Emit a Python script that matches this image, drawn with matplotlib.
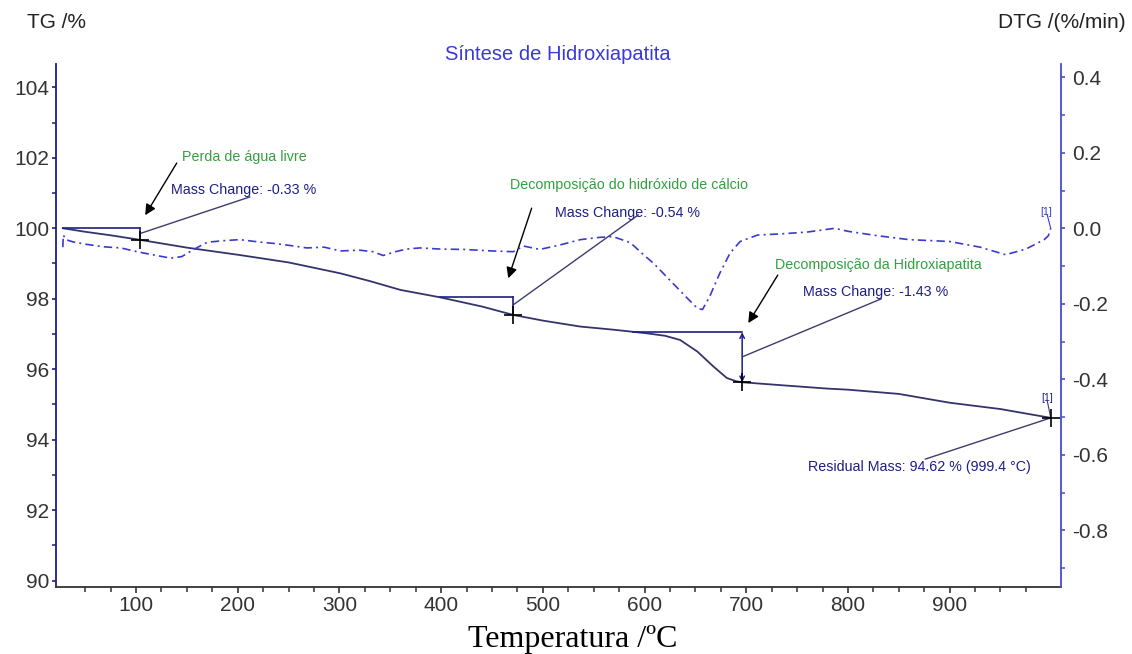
import numpy as np
import matplotlib
matplotlib.use('Agg')
import matplotlib.pyplot as plt
from matplotlib.ticker import MultipleLocator, FixedLocator

plt.rcParams['font.family'] = ['Liberation Sans', 'DejaVu Sans']

# TG curve (%)
T_tg = [28, 50, 75, 104, 150, 202, 250, 301, 330, 360, 399, 440, 471, 500, 537, 570,
        602, 620, 635, 652, 668, 681, 690, 696, 733, 780, 800, 850, 900, 950, 999.4]
tg = [100.0, 99.9, 99.8, 99.67, 99.45, 99.24, 99.03, 98.72, 98.5, 98.25, 98.04, 97.78,
      97.54, 97.38, 97.21, 97.12, 97.02, 96.95, 96.83, 96.5, 96.07, 95.75, 95.66, 95.63,
      95.55, 95.45, 95.42, 95.3, 95.05, 94.87, 94.62]

# DTG curve (%/min)
T_dtg = [28, 28.5, 31, 38, 50, 68, 85, 101, 120, 134, 145, 156, 170, 185, 202, 220, 235,
         250, 268, 285, 301, 320, 333, 343, 355, 366, 379, 399, 422, 450, 471, 481, 497,
         517, 537, 556, 569, 586, 599, 609, 628, 642, 652, 657, 664, 674, 684, 694, 711,
         733, 760, 787, 800, 830, 860, 900, 930, 955, 975, 993, 997, 999.4]
dtg = [-0.05, -0.018, -0.03, -0.036, -0.042, -0.049, -0.052, -0.062, -0.072, -0.079,
       -0.075, -0.057, -0.037, -0.033, -0.030, -0.036, -0.040, -0.045, -0.052, -0.050,
       -0.060, -0.058, -0.062, -0.072, -0.062, -0.055, -0.052, -0.055, -0.056, -0.060,
       -0.062, -0.047, -0.056, -0.044, -0.030, -0.024, -0.022, -0.038, -0.070, -0.093,
       -0.146, -0.185, -0.212, -0.215, -0.181, -0.119, -0.066, -0.035, -0.018, -0.015,
       -0.010, 0.0, -0.008, -0.020, -0.030, -0.035, -0.050, -0.070, -0.055, -0.030,
       -0.020, 0.0]

# mass change steps: (start T, end T, start mass, end mass)
steps = [(28, 104, 100.0, 99.67), (399, 471, 98.04, 97.54), (589, 696, 97.05, 95.63)]
step_labels = ['Mass Change: -0.33 %', 'Mass Change: -0.54 %', 'Mass Change: -1.43 %']
step_names = ['Perda de água livre', 'Decomposição do hidróxido de cálcio',
              'Decomposição da Hidroxiapatita']
residual = (999.4, 94.62)

x_major = [100, 200, 300, 400, 500, 600, 700, 800, 900]

navy = '#1e1e86'
blue = '#3a3ad2'
green = '#33a040'
tick_col = '#333333'

fig = plt.figure(figsize=(11.32, 6.54), dpi=100)
ax = fig.add_axes([56/1132, 1-586.7/654, (1061-56)/1132, (586.7-64)/654])
ax2 = ax.twinx()

ax.plot(T_tg, tg, color='#34346c', lw=1.3, zorder=3)
ax2.plot(T_dtg, dtg, color=blue, lw=1.2, ls=(0, (5, 2.5, 1.2, 2.5)))

ax.set_xlim(21.3, 1009.5)
ax.set_ylim(89.83, 104.66)
ax2.set_ylim(-0.949, 0.435)

# step boxes and markers
for i, (t0, t1, m0, m1) in enumerate(steps):
    ax.plot([t0, t1], [m0, m0], color=navy, lw=1.2, zorder=4)
    if i < 2:
        ax.plot([t1, t1], [m0, m1], color=navy, lw=1.2, zorder=4)
    else:
        ax.annotate('', xy=(t1, m1), xytext=(t1, m0),
                    arrowprops=dict(arrowstyle='<->', color=navy, lw=1.1,
                                    mutation_scale=8, shrinkA=0, shrinkB=0))
    ax.plot(t1, m1, marker='+', color='black', ms=13, mew=1.2, zorder=5)
ax.plot(residual[0], residual[1], marker='+', color='black', ms=13, mew=1.2, zorder=5)

lead = dict(arrowstyle='-', color='#3c3c6e', lw=1.0, shrinkA=0, shrinkB=0)
arrow = dict(arrowstyle='-|>', color='black', lw=1.0, mutation_scale=16, shrinkA=0, shrinkB=0)
fs = 10.3

# water loss
ax.text(145.5, 102.02, step_names[0], color=green, fontsize=fs, va='center')
ax.text(134.4, 101.09, step_labels[0], color=navy, fontsize=fs, va='center')
ax.annotate('', xy=(109, 100.37), xytext=(140, 101.85), arrowprops=arrow)
ax.annotate('', xy=(105, 99.86), xytext=(212, 100.89), arrowprops=lead)

# calcium hydroxide
ax.text(467.8, 101.23, step_names[1], color=green, fontsize=fs, va='center')
ax.text(512, 100.43, step_labels[1], color=navy, fontsize=fs, va='center')
ax.annotate('', xy=(466, 98.58), xytext=(489, 100.57), arrowprops=arrow)
ax.annotate('', xy=(471, 97.83), xytext=(594, 100.38), arrowprops=lead)

# hydroxyapatite
ax.text(728, 98.96, step_names[2], color=green, fontsize=fs, va='center')
ax.text(756, 98.19, step_labels[2], color=navy, fontsize=fs, va='center')
ax.annotate('', xy=(702, 97.31), xytext=(731, 98.67), arrowprops=arrow)
ax.annotate('', xy=(696, 96.35), xytext=(833, 98.0), arrowprops=lead)

# residual mass
ax.text(761, 93.23, 'Residual Mass: 94.62 % (999.4 °C)', color=navy, fontsize=fs, va='center')
ax.annotate('', xy=residual, xytext=(876, 93.45), arrowprops=lead)
ax.text(995.5, 95.05, '[1]', color=navy, fontsize=7.5, ha='center', va='bottom')
ax.annotate('', xy=residual, xytext=(996, 95.1), arrowprops=dict(lead, lw=0.8))
ax2.text(995, 0.03, '[1]', color=blue, fontsize=7.5, ha='center', va='bottom')
ax2.annotate('', xy=(999.4, 0.0), xytext=(996, 0.035),
             arrowprops=dict(arrowstyle='-', color=blue, lw=0.8, shrinkA=0, shrinkB=0))

# axes styling
ax.xaxis.set_major_locator(FixedLocator(x_major))
ax.xaxis.set_minor_locator(FixedLocator([t for t in range(50, 1000, 25) if t not in x_major]))
ax.yaxis.set_major_locator(MultipleLocator(2))
ax.yaxis.set_minor_locator(MultipleLocator(1))
ax2.yaxis.set_major_locator(MultipleLocator(0.2))
ax2.yaxis.set_minor_locator(MultipleLocator(0.1))
ax2.yaxis.set_major_formatter(matplotlib.ticker.FormatStrFormatter('%.1f'))

for a in (ax, ax2):
    a.spines['top'].set_visible(False)
ax2.spines['left'].set_visible(False)
ax2.spines['bottom'].set_visible(False)
ax.spines['right'].set_visible(False)
ax.spines['left'].set_color(navy)
ax.spines['left'].set_linewidth(1.3)
ax.spines['bottom'].set_color('#333333')
ax.spines['bottom'].set_linewidth(1.3)
ax2.spines['right'].set_color('#4a4ad0')
ax2.spines['right'].set_linewidth(1.3)

ax.tick_params(axis='x', which='major', direction='out', length=4, width=1.2,
               colors='#333333', labelsize=15, pad=3, labelcolor=tick_col)
ax.tick_params(axis='x', which='minor', direction='out', length=3.5, width=1.1, colors='#333333')
ax.tick_params(axis='y', which='major', direction='out', length=3, width=1.2,
               color=navy, labelsize=15, pad=2, labelcolor=tick_col)
ax.tick_params(axis='y', which='minor', direction='out', length=3, width=1.1, color=navy)
ax2.tick_params(axis='y', which='major', direction='out', length=3, width=1.2,
                color='#4a4ad0', labelsize=15, pad=5, labelcolor=tick_col)
ax2.tick_params(axis='y', which='minor', direction='out', length=3, width=1.1, color='#4a4ad0')

# titles and axis names
fig.text(558/1132, 1-55/654, 'Síntese de Hidroxiapatita', color=blue, fontsize=14.5,
         ha='center', va='center')
fig.text(27/1132, 1-23/654, 'TG /%', color='#222222', fontsize=15, ha='left', va='center')
fig.text(1126/1132, 1-23/654, 'DTG /(%/min)', color='#222222', fontsize=15,
         ha='right', va='center')
fig.text(573/1132, 1-647/654, 'Temperatura /ºC', fontsize=23, ha='center', va='baseline',
         family=['Liberation Serif', 'DejaVu Serif'], color='black')

fig.savefig('out.png', dpi=100)
